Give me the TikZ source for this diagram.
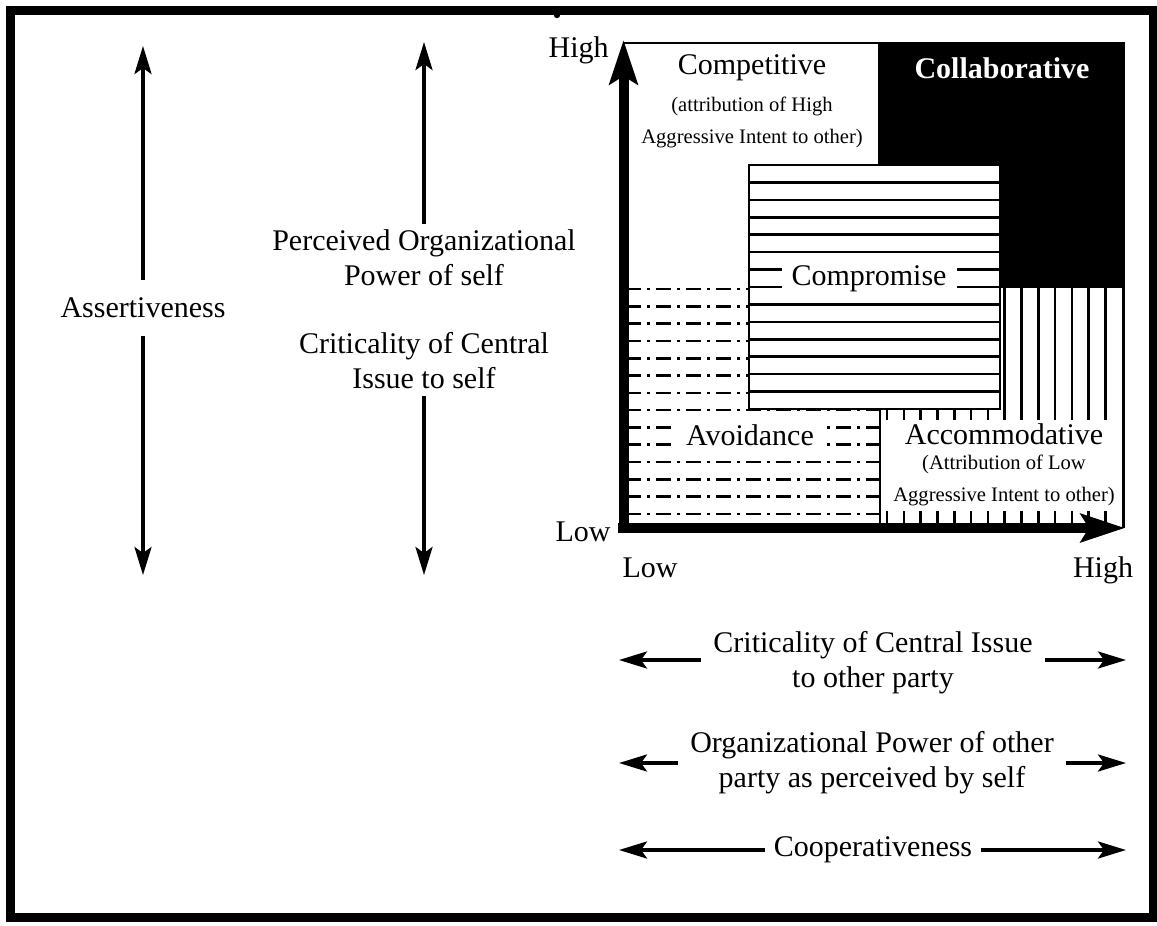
\documentclass[tikz,border=0pt]{standalone}
\usepackage{fontspec}
\setmainfont{Liberation Serif}
\usetikzlibrary{positioning,arrows.meta,calc}
\tikzset{axis/.style={line width=5pt,-{Stealth[length=22pt,width=14pt,inset=4pt]}}}
\tikzset{dimarrow/.style={line width=1.8pt,-{Stealth[length=14pt,width=8.5pt,inset=3pt]}}}
\tikzset{lbl/.style={font=\fontsize{15}{17.5}\selectfont,align=center,inner sep=3pt}}
\tikzset{sublbl/.style={font=\fontsize{10.3}{16}\selectfont,align=center,inner sep=0pt}}
\tikzset{hatch/.style={line width=1.3pt}}
\tikzset{dashdot/.style={line width=1.3pt,dash pattern=on 7.5pt off 3pt on 1.5pt off 3pt}}

\begin{document}
\begin{tikzpicture}[x=0.5pt,y=-0.5pt]
	\useasboundingbox (0,0) rectangle (1157,926);
	\draw[line width=4.5pt] (10.5,10.5) rectangle (1153,917);
	\fill (557,15) circle (1.6pt);

	%% Self side
	\node[lbl,inner ysep=9pt] (assert) at (143,308) {Assertiveness};
	\coordinate (assertT) at (143,46);
	\coordinate (assertB) at (143,575);
	\draw[dimarrow] (assert.north) -- (assertT);
	\draw[dimarrow] (assert.south) -- (assertB);

	\node[lbl] (power) at (424,258) {Perceived Organizational\\Power of self};
	\node[lbl] (critself) at (424,361) {Criticality of Central\\Issue to self};
	\coordinate (powerT) at (424,42);
	\coordinate (critselfB) at (424,575);
	\draw[dimarrow] (power.north) -- (powerT);
	\draw[dimarrow] (critself.south) -- (critselfB);

	%% Regions of the grid
	\fill (878,42) rectangle (1125,288);
	\foreach \k in {0,...,13}
		\draw[dashdot] (626,{289+17.3*\k}) -- (880,{289+17.3*\k});
	\foreach \k in {0,...,13}
		\draw[hatch] ({887+16.8*\k},288) -- ({887+16.8*\k},524);
	\draw[hatch] (880,409) -- (880,524);
	\draw[hatch] (1123.5,288) -- (1123.5,528);
	\fill[white] (882,420) rectangle (1121,511);
	\draw[hatch,fill=white] (749,165) rectangle (1000,409);
	\foreach \k in {1,...,13}
		\draw[hatch] (749,{165+17.43*\k}) -- (1000,{165+17.43*\k});
	\draw[hatch] (624,43) -- (878,43);

	% Region names
	\node[lbl] (compet) at (752,68) {Competitive};
	\node[sublbl] (competsub) at (752,122) {(attribution of High\\Aggressive Intent to other)};
	\node[lbl,text=white] (collab) at (1002,68) {\bfseries Collaborative};
	\node[lbl,fill=white,inner xsep=5pt] (compro) at (869,279) {Compromise};
	\node[lbl,fill=white,inner xsep=6pt,inner ysep=5pt] (avoid) at (750,435) {Avoidance};
	\node[lbl] (accom) at (1004,434) {Accommodative};
	\node[sublbl] (accomsub) at (1004,480) {(Attribution of Low\\Aggressive Intent to other)};

	%% Axes
	\coordinate (ybase) at (623.5,533);
	\coordinate (ytop) at (623.5,40);
	\coordinate (xbase) at (618,528);
	\coordinate (xend) at (1125,528);
	\draw[axis] (ybase) -- (ytop);
	\draw[axis] (xbase) -- (xend);
	\node[lbl,anchor=east,inner sep=0pt] (yhigh) at (609,50) {High};
	\node[lbl,anchor=east,inner sep=0pt] (ylow) at (611,532) {Low};
	\node[lbl] (xlow) at (650,568) {Low};
	\node[lbl] (xhigh) at (1103,570) {High};

	%% Other party side
	\node[lbl,inner xsep=6pt] (critother) at (873,663) {Criticality of Central Issue\\to other party};
	\node[lbl,inner xsep=6pt] (powerother) at (872,763) {Organizational Power of other\\party as perceived by self};
	\node[lbl,inner xsep=4pt] (coop) at (873,850) {Cooperativeness};
	\coordinate (critotherL) at (619,660);
	\coordinate (critotherR) at (1126,660);
	\coordinate (powerotherL) at (619,763);
	\coordinate (powerotherR) at (1126,763);
	\coordinate (coopL) at (619,850);
	\coordinate (coopR) at (1126,850);
	\draw[dimarrow] (critother.west |- critotherL) -- (critotherL);
	\draw[dimarrow] (critother.east |- critotherR) -- (critotherR);
	\draw[dimarrow] (powerother.west) -- (powerotherL);
	\draw[dimarrow] (powerother.east) -- (powerotherR);
	\draw[dimarrow] (coop.west) -- (coopL);
	\draw[dimarrow] (coop.east) -- (coopR);
\end{tikzpicture}
\end{document}
